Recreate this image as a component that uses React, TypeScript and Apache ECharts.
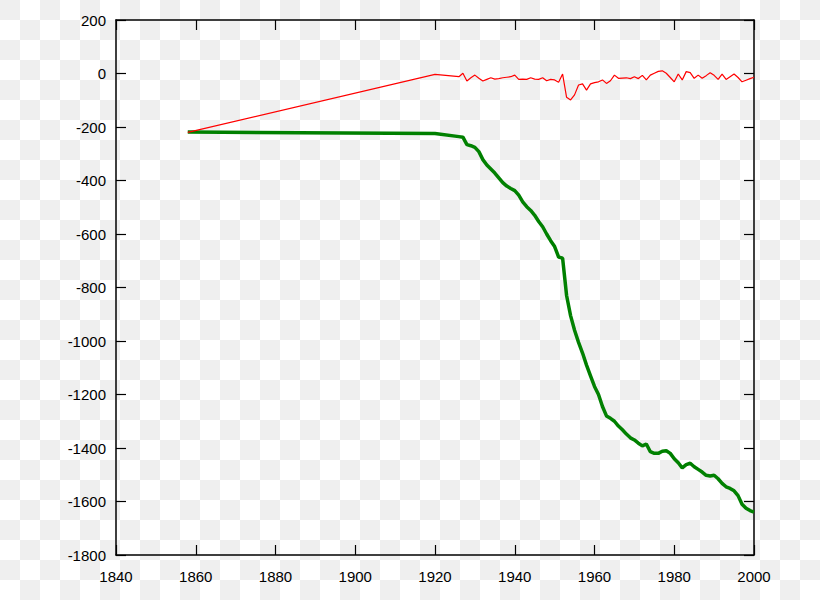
import React, { useEffect, useRef } from "react";
import * as echarts from "echarts";

const years = [
  1858, 1920, 1926, 1927, 1928, 1929, 1930, 1931, 1932, 1933, 1934, 1935, 1936, 1937, 1938, 1939,
  1940, 1941, 1942, 1943, 1944, 1945, 1946, 1947, 1948, 1949, 1950, 1951, 1952, 1953, 1954, 1955,
  1956, 1957, 1958, 1959, 1960, 1961, 1962, 1963, 1964, 1965, 1966, 1967, 1968, 1969, 1970, 1971,
  1972, 1973, 1974, 1975, 1976, 1977, 1978, 1979, 1980, 1981, 1982, 1983, 1984, 1985, 1986, 1987,
  1988, 1989, 1990, 1991, 1992, 1993, 1994, 1995, 1996, 1997, 1998, 1999, 2000,
];

const annualBalance = [
  -220, -3, -12, 1, -28, -16, -6, -18, -28, -22, -16, -21, -19, -16, -14, -12,
  -6, -22, -21, -22, -16, -21, -22, -16, -27, -22, -24, -33, -2, -89, -99, -80,
  -43, -39, -62, -39, -34, -31, -24, -37, -27, -6, -18, -17, -16, -19, -12, -19,
  -7, -24, -6, 1, 8, 10, 1, -15, -31, -2, -24, 7, 3, -18, -6, -18,
  -8, 3, -7, -22, -2, -22, -12, -2, -15, -31, -25, -19, -14,
];

const cumulativeBalance = [
  -219, -224, -236, -238, -266, -270, -276, -292, -322, -342, -357, -372, -390, -408, -421, -430,
  -438, -455, -480, -498, -512, -530, -553, -573, -600, -625, -647, -686, -690, -830, -905, -960,
  -1005, -1045, -1090, -1130, -1170, -1200, -1245, -1280, -1289, -1300, -1318, -1332, -1348, -1362, -1370, -1382,
  -1392, -1385, -1414, -1420, -1420, -1412, -1410, -1420, -1440, -1455, -1474, -1462, -1457, -1470, -1480, -1490,
  -1502, -1505, -1502, -1515, -1532, -1545, -1551, -1560, -1578, -1610, -1625, -1634, -1640,
];

const xRange = [1840, 2000];
const xStep = 20;
const yRange = [-1800, 200];
const yStep = 200;

const FONT = "'Liberation Sans', Arial, sans-serif";

export default function App() {
  const ref = useRef<HTMLDivElement>(null);

  useEffect(() => {
    if (!ref.current) return;
    const chart = echarts.init(ref.current, null, { renderer: "svg" });
    const axisLine = { show: true, onZero: false, lineStyle: { color: "#000", width: 1.5 } };
    const tick = { show: true, inside: true, length: 10, lineStyle: { color: "#000", width: 1.2 } };
    const label = {
      color: "#000",
      fontSize: 15,
      fontFamily: FONT,
      formatter: (v: number) => String(v),
    };
    chart.setOption({
      animation: false,
      backgroundColor: "transparent",
      grid: { left: 116, right: 66, top: 20, bottom: 45, containLabel: false },
      xAxis: [
        {
          type: "value",
          min: xRange[0],
          max: xRange[1],
          interval: xStep,
          position: "bottom",
          axisLine,
          axisTick: tick,
          splitLine: { show: false },
          axisLabel: { ...label, margin: 14 },
        },
        {
          type: "value",
          min: xRange[0],
          max: xRange[1],
          interval: xStep,
          position: "top",
          axisLine,
          axisTick: tick,
          splitLine: { show: false },
          axisLabel: { show: false },
        },
      ],
      yAxis: [
        {
          type: "value",
          min: yRange[0],
          max: yRange[1],
          interval: yStep,
          position: "left",
          axisLine,
          axisTick: tick,
          splitLine: { show: false },
          axisLabel: { ...label, margin: 10 },
        },
        {
          type: "value",
          min: yRange[0],
          max: yRange[1],
          interval: yStep,
          position: "right",
          axisLine,
          axisTick: tick,
          splitLine: { show: false },
          axisLabel: { show: false },
        },
      ],
      series: [
        {
          type: "line",
          name: "annual",
          xAxisIndex: 0,
          yAxisIndex: 0,
          data: years.map((y, i) => [y, annualBalance[i]]),
          showSymbol: false,
          lineStyle: { color: "#ff0000", width: 1.2 },
          itemStyle: { color: "#ff0000" },
          z: 3,
        },
        {
          type: "line",
          name: "cumulative",
          xAxisIndex: 0,
          yAxisIndex: 0,
          data: years.map((y, i) => [y, cumulativeBalance[i]]),
          showSymbol: false,
          lineStyle: { color: "#008000", width: 3.5 },
          itemStyle: { color: "#008000" },
          z: 2,
        },
      ],
    });
    return () => chart.dispose();
  }, []);

  return (
    <div
      ref={ref}
      style={{
        position: "absolute",
        left: 0,
        top: 0,
        width: 820,
        height: 600,
        backgroundColor: "#ffffff",
        backgroundImage: "repeating-conic-gradient(#ffffff 0% 25%, #efefef 0% 50%)",
        backgroundSize: "40px 40px",
        backgroundPosition: "0 0",
      }}
    />
  );
}
